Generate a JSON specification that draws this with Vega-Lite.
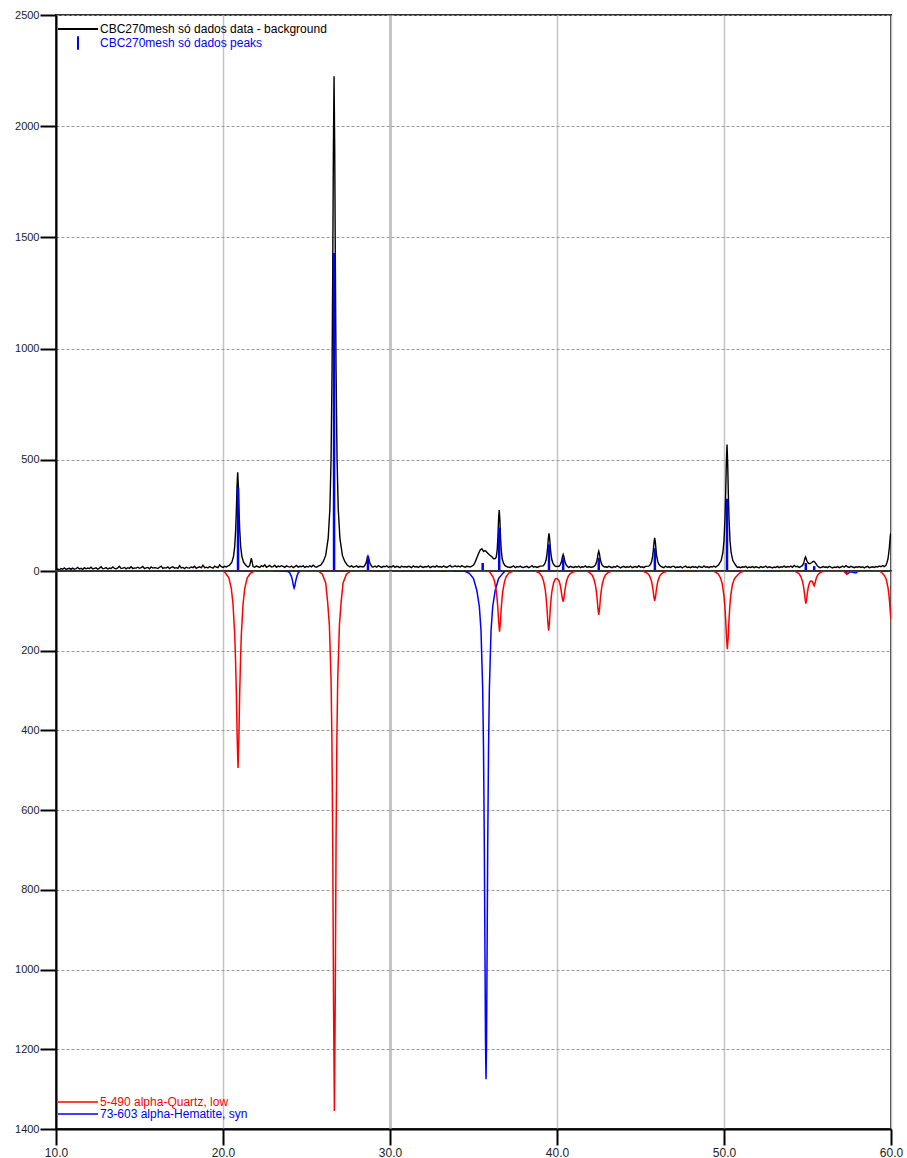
{
  "$schema": "https://vega.github.io/schema/vega-lite/v6.json",
  "background": "white",
  "padding": {"left": 13, "top": 8, "right": 0, "bottom": 0},
  "spacing": 0,
  "bounds": "flush",
  "config": {
    "font": "Liberation Sans",
    "view": {"stroke": "#333333", "strokeWidth": 2},
    "axis": {"labelFont": "Liberation Sans", "labelColor": "#222222", "tickColor": "#000000", "tickWidth": 2, "tickSize": 16, "domainColor": "#000000", "domainWidth": 2},
    "axisY": {"gridDash": [3, 2], "gridColor": "#9a9a9a", "gridWidth": 1, "labelFontSize": 11, "labelPadding": 1},
    "axisX": {"gridColor": "#c4c4c4", "labelFontSize": 12, "labelPadding": 2, "labelFlush": false}
  },
  "resolve": {"scale": {"color": "independent", "y": "independent", "x": "independent"}},
  "datasets": {
    "obs": [
      {"x":10.0,"y":6},{"x":10.1,"y":9},{"x":10.2,"y":5},{"x":10.3,"y":11},{"x":10.4,"y":8},{"x":10.5,"y":14},{"x":10.6,"y":7},{"x":10.7,"y":10},{"x":10.8,"y":12},{"x":10.9,"y":9},
      {"x":11.0,"y":13},{"x":11.1,"y":8},{"x":11.2,"y":11},{"x":11.3,"y":16},{"x":11.4,"y":9},{"x":11.5,"y":12},{"x":11.6,"y":7},{"x":11.7,"y":15},{"x":11.8,"y":10},{"x":11.9,"y":13},
      {"x":12.0,"y":11},{"x":12.1,"y":17},{"x":12.2,"y":9},{"x":12.3,"y":12},{"x":12.4,"y":14},{"x":12.5,"y":8},{"x":12.6,"y":13},{"x":12.7,"y":19},{"x":12.8,"y":10},{"x":12.9,"y":12},
      {"x":13.0,"y":15},{"x":13.1,"y":9},{"x":13.2,"y":13},{"x":13.3,"y":11},{"x":13.4,"y":18},{"x":13.5,"y":12},{"x":13.6,"y":10},{"x":13.7,"y":14},{"x":13.8,"y":21},{"x":13.9,"y":11},
      {"x":14.0,"y":13},{"x":14.1,"y":16},{"x":14.2,"y":10},{"x":14.3,"y":15},{"x":14.4,"y":12},{"x":14.5,"y":19},{"x":14.6,"y":11},{"x":14.7,"y":14},{"x":14.8,"y":13},{"x":14.9,"y":17},
      {"x":15.0,"y":12},{"x":15.1,"y":15},{"x":15.2,"y":20},{"x":15.3,"y":11},{"x":15.4,"y":14},{"x":15.5,"y":16},{"x":15.6,"y":10},{"x":15.7,"y":18},{"x":15.8,"y":13},{"x":15.9,"y":15},
      {"x":16.0,"y":14},{"x":16.1,"y":11},{"x":16.2,"y":17},{"x":16.3,"y":22},{"x":16.4,"y":12},{"x":16.5,"y":15},{"x":16.6,"y":13},{"x":16.7,"y":18},{"x":16.8,"y":11},{"x":16.9,"y":16},
      {"x":17.0,"y":19},{"x":17.1,"y":13},{"x":17.2,"y":15},{"x":17.3,"y":12},{"x":17.4,"y":24},{"x":17.5,"y":14},{"x":17.6,"y":16},{"x":17.7,"y":11},{"x":17.8,"y":17},{"x":17.9,"y":14},
      {"x":18.0,"y":13},{"x":18.1,"y":18},{"x":18.2,"y":15},{"x":18.3,"y":21},{"x":18.4,"y":12},{"x":18.5,"y":16},{"x":18.6,"y":19},{"x":18.7,"y":14},{"x":18.8,"y":26},{"x":18.9,"y":15},
      {"x":19.0,"y":17},{"x":19.1,"y":14},{"x":19.2,"y":20},{"x":19.3,"y":16},{"x":19.4,"y":13},{"x":19.5,"y":22},{"x":19.6,"y":18},{"x":19.7,"y":15},{"x":19.8,"y":27},{"x":19.9,"y":19},
      {"x":20.0,"y":16},{"x":20.1,"y":21},{"x":20.2,"y":18},{"x":20.3,"y":23},
      {"x":20.38,"y":25},{"x":20.53,"y":40},{"x":20.63,"y":66},{"x":20.7,"y":109},{"x":20.76,"y":186},{"x":20.8,"y":272},{"x":20.84,"y":380},{"x":20.88,"y":444},{"x":20.92,"y":380},{"x":20.96,"y":272},{"x":21.0,"y":186},{"x":21.06,"y":109},{"x":21.13,"y":66},{"x":21.23,"y":40},{"x":21.38,"y":25},
      {"x":21.5,"y":18},{"x":21.6,"y":25},{"x":21.7,"y":58},{"x":21.8,"y":20},{"x":21.9,"y":17},
      {"x":22.0,"y":23},{"x":22.1,"y":19},{"x":22.2,"y":16},{"x":22.3,"y":24},{"x":22.4,"y":20},{"x":22.5,"y":28},{"x":22.6,"y":17},{"x":22.7,"y":21},{"x":22.8,"y":25},{"x":22.9,"y":18},
      {"x":23.0,"y":20},{"x":23.1,"y":26},{"x":23.2,"y":17},{"x":23.3,"y":22},{"x":23.4,"y":19},{"x":23.5,"y":24},{"x":23.6,"y":21},{"x":23.7,"y":16},{"x":23.8,"y":23},{"x":23.9,"y":20},
      {"x":24.0,"y":18},{"x":24.1,"y":22},{"x":24.2,"y":15},{"x":24.3,"y":20},{"x":24.4,"y":25},{"x":24.5,"y":17},{"x":24.6,"y":21},{"x":24.7,"y":19},{"x":24.8,"y":24},{"x":24.9,"y":16},
      {"x":25.0,"y":21},{"x":25.1,"y":18},{"x":25.2,"y":23},{"x":25.3,"y":19},{"x":25.4,"y":26},{"x":25.5,"y":20},{"x":25.6,"y":17},{"x":25.7,"y":22},
      {"x":25.85,"y":26},{"x":26.0,"y":42},{"x":26.15,"y":70},{"x":26.3,"y":148},{"x":26.4,"y":280},{"x":26.47,"y":501},{"x":26.53,"y":899},{"x":26.57,"y":1341},{"x":26.61,"y":1894},{"x":26.65,"y":2225},{"x":26.69,"y":1894},{"x":26.73,"y":1341},{"x":26.77,"y":899},{"x":26.83,"y":501},{"x":26.9,"y":280},{"x":27.0,"y":148},{"x":27.15,"y":70},{"x":27.3,"y":42},{"x":27.45,"y":26},
      {"x":27.6,"y":18},{"x":27.7,"y":24},{"x":27.8,"y":17},{"x":27.9,"y":20},
      {"x":28.0,"y":23},{"x":28.1,"y":16},{"x":28.2,"y":21},{"x":28.3,"y":19},
      {"x":28.43,"y":19},{"x":28.56,"y":34},{"x":28.62,"y":52},{"x":28.68,"y":67},{"x":28.74,"y":52},{"x":28.8,"y":34},{"x":28.93,"y":19},
      {"x":29.0,"y":18},{"x":29.1,"y":22},{"x":29.2,"y":17},{"x":29.3,"y":24},{"x":29.4,"y":20},{"x":29.5,"y":16},{"x":29.6,"y":21},{"x":29.7,"y":19},{"x":29.8,"y":23},{"x":29.9,"y":17},
      {"x":30.0,"y":20},{"x":30.1,"y":18},{"x":30.2,"y":24},{"x":30.3,"y":16},{"x":30.4,"y":21},{"x":30.5,"y":19},{"x":30.6,"y":15},{"x":30.7,"y":22},{"x":30.8,"y":18},{"x":30.9,"y":20},
      {"x":31.0,"y":17},{"x":31.1,"y":21},{"x":31.2,"y":19},{"x":31.3,"y":15},{"x":31.4,"y":23},{"x":31.5,"y":18},{"x":31.6,"y":20},{"x":31.7,"y":16},{"x":31.8,"y":22},{"x":31.9,"y":19},
      {"x":32.0,"y":16},{"x":32.1,"y":20},{"x":32.2,"y":18},{"x":32.3,"y":23},{"x":32.4,"y":15},{"x":32.5,"y":19},{"x":32.6,"y":21},{"x":32.7,"y":17},{"x":32.8,"y":24},{"x":32.9,"y":18},
      {"x":33.0,"y":20},{"x":33.1,"y":17},{"x":33.2,"y":22},{"x":33.3,"y":19},{"x":33.4,"y":16},{"x":33.5,"y":21},{"x":33.6,"y":25},{"x":33.7,"y":18},{"x":33.8,"y":20},{"x":33.9,"y":23},
      {"x":34.0,"y":19},{"x":34.1,"y":22},{"x":34.2,"y":18},{"x":34.3,"y":24},{"x":34.4,"y":20},{"x":34.5,"y":17},{"x":34.6,"y":21},
      {"x":34.7,"y":20},{"x":34.8,"y":18},{"x":34.9,"y":22},{"x":35.0,"y":27},{"x":35.1,"y":40},{"x":35.2,"y":60},{"x":35.3,"y":78},{"x":35.4,"y":95},{"x":35.5,"y":100},{"x":35.6,"y":88},{"x":35.7,"y":92},{"x":35.8,"y":84},{"x":35.9,"y":76},{"x":36.0,"y":70},{"x":36.1,"y":64},{"x":36.2,"y":55},{"x":36.3,"y":56},
      {"x":36.36,"y":62},{"x":36.42,"y":95},{"x":36.46,"y":150},{"x":36.5,"y":230},{"x":36.54,"y":274},{"x":36.58,"y":230},{"x":36.62,"y":150},{"x":36.66,"y":95},{"x":36.72,"y":55},{"x":36.79,"y":36},{"x":36.89,"y":24},{"x":37.04,"y":18},
      {"x":37.2,"y":16},{"x":37.3,"y":19},{"x":37.4,"y":23},{"x":37.5,"y":15},{"x":37.6,"y":20},{"x":37.7,"y":18},{"x":37.8,"y":22},{"x":37.9,"y":17},
      {"x":38.0,"y":16},{"x":38.1,"y":19},{"x":38.2,"y":21},{"x":38.3,"y":15},{"x":38.4,"y":18},{"x":38.5,"y":24},{"x":38.6,"y":17},{"x":38.7,"y":20},{"x":38.8,"y":16},{"x":38.9,"y":19},
      {"x":39.0,"y":22},
      {"x":39.17,"y":23},{"x":39.27,"y":33},{"x":39.34,"y":48},{"x":39.4,"y":76},{"x":39.44,"y":107},{"x":39.48,"y":146},{"x":39.52,"y":169},{"x":39.56,"y":146},{"x":39.6,"y":107},{"x":39.64,"y":76},{"x":39.7,"y":48},{"x":39.77,"y":33},{"x":39.87,"y":23},
      {"x":39.95,"y":20},
      {"x":40.12,"y":21},{"x":40.19,"y":27},{"x":40.25,"y":38},{"x":40.29,"y":50},{"x":40.33,"y":65},{"x":40.37,"y":74},{"x":40.41,"y":65},{"x":40.45,"y":50},{"x":40.49,"y":38},{"x":40.55,"y":27},{"x":40.62,"y":21},
      {"x":40.7,"y":15},{"x":40.8,"y":21},{"x":40.9,"y":18},
      {"x":41.0,"y":16},{"x":41.1,"y":20},{"x":41.2,"y":17},{"x":41.3,"y":22},{"x":41.4,"y":15},{"x":41.5,"y":19},{"x":41.6,"y":18},{"x":41.7,"y":23},{"x":41.8,"y":16},{"x":41.9,"y":20},
      {"x":42.0,"y":17},
      {"x":42.15,"y":18},{"x":42.25,"y":23},{"x":42.32,"y":30},{"x":42.38,"y":44},{"x":42.42,"y":59},{"x":42.46,"y":78},{"x":42.5,"y":89},{"x":42.54,"y":78},{"x":42.58,"y":59},{"x":42.62,"y":44},{"x":42.68,"y":30},{"x":42.75,"y":23},{"x":42.85,"y":18},
      {"x":42.95,"y":19},
      {"x":43.0,"y":16},{"x":43.1,"y":21},{"x":43.2,"y":18},{"x":43.3,"y":15},{"x":43.4,"y":20},{"x":43.5,"y":17},{"x":43.6,"y":23},{"x":43.7,"y":19},{"x":43.8,"y":14},{"x":43.9,"y":18},
      {"x":44.0,"y":21},{"x":44.1,"y":16},{"x":44.2,"y":19},{"x":44.3,"y":17},{"x":44.4,"y":22},{"x":44.5,"y":15},{"x":44.6,"y":18},{"x":44.7,"y":20},{"x":44.8,"y":16},{"x":44.9,"y":24},
      {"x":45.0,"y":17},{"x":45.1,"y":19},{"x":45.2,"y":15},{"x":45.3,"y":21},
      {"x":45.5,"y":22},{"x":45.6,"y":30},{"x":45.67,"y":44},{"x":45.73,"y":68},{"x":45.77,"y":95},{"x":45.81,"y":129},{"x":45.85,"y":149},{"x":45.89,"y":129},{"x":45.93,"y":95},{"x":45.97,"y":68},{"x":46.03,"y":44},{"x":46.1,"y":30},{"x":46.2,"y":22},
      {"x":46.3,"y":18},{"x":46.4,"y":15},{"x":46.5,"y":22},{"x":46.6,"y":17},{"x":46.7,"y":19},{"x":46.8,"y":16},{"x":46.9,"y":21},
      {"x":47.0,"y":21},{"x":47.1,"y":15},{"x":47.2,"y":18},{"x":47.3,"y":17},{"x":47.4,"y":20},{"x":47.5,"y":14},{"x":47.6,"y":19},{"x":47.7,"y":22},{"x":47.8,"y":16},{"x":47.9,"y":18},
      {"x":48.0,"y":15},{"x":48.1,"y":20},{"x":48.2,"y":17},{"x":48.3,"y":19},{"x":48.4,"y":14},{"x":48.5,"y":21},{"x":48.6,"y":18},{"x":48.7,"y":16},{"x":48.8,"y":23},{"x":48.9,"y":17},
      {"x":49.0,"y":19},{"x":49.1,"y":15},{"x":49.2,"y":20},{"x":49.3,"y":18},{"x":49.4,"y":22},{"x":49.5,"y":17},
      {"x":49.68,"y":28},{"x":49.83,"y":47},{"x":49.93,"y":81},{"x":50.0,"y":136},{"x":50.06,"y":236},{"x":50.1,"y":347},{"x":50.14,"y":486},{"x":50.18,"y":569},{"x":50.22,"y":486},{"x":50.26,"y":347},{"x":50.3,"y":236},{"x":50.36,"y":136},{"x":50.43,"y":81},{"x":50.53,"y":47},{"x":50.68,"y":28},
      {"x":50.8,"y":16},{"x":50.9,"y":18},
      {"x":51.0,"y":15},{"x":51.1,"y":19},{"x":51.2,"y":17},{"x":51.3,"y":21},{"x":51.4,"y":14},{"x":51.5,"y":18},{"x":51.6,"y":16},{"x":51.7,"y":20},{"x":51.8,"y":15},{"x":51.9,"y":19},
      {"x":52.0,"y":17},{"x":52.1,"y":14},{"x":52.2,"y":20},{"x":52.3,"y":16},{"x":52.4,"y":18},{"x":52.5,"y":22},{"x":52.6,"y":15},{"x":52.7,"y":19},{"x":52.8,"y":17},{"x":52.9,"y":14},
      {"x":53.0,"y":18},{"x":53.1,"y":16},{"x":53.2,"y":21},{"x":53.3,"y":15},{"x":53.4,"y":19},{"x":53.5,"y":17},{"x":53.6,"y":23},{"x":53.7,"y":16},{"x":53.8,"y":20},{"x":53.9,"y":18},
      {"x":54.0,"y":22},{"x":54.1,"y":17},{"x":54.2,"y":25},{"x":54.3,"y":19},{"x":54.4,"y":21},
      {"x":54.5,"y":16},{"x":54.6,"y":20},{"x":54.7,"y":25},{"x":54.76,"y":33},{"x":54.8,"y":43},{"x":54.84,"y":55},{"x":54.88,"y":63},{"x":54.92,"y":56},{"x":54.96,"y":46},{"x":55.02,"y":38},{"x":55.1,"y":33},{"x":55.18,"y":34},{"x":55.26,"y":38},{"x":55.32,"y":42},{"x":55.38,"y":44},{"x":55.44,"y":40},{"x":55.5,"y":33},{"x":55.58,"y":24},{"x":55.66,"y":18},{"x":55.75,"y":15},
      {"x":55.85,"y":17},{"x":55.95,"y":20},
      {"x":56.05,"y":16},{"x":56.1,"y":19},{"x":56.2,"y":15},{"x":56.3,"y":21},{"x":56.4,"y":17},{"x":56.5,"y":14},{"x":56.6,"y":18},{"x":56.7,"y":16},{"x":56.8,"y":20},{"x":56.9,"y":15},
      {"x":57.0,"y":18},{"x":57.1,"y":22},{"x":57.2,"y":17},{"x":57.3,"y":24},{"x":57.4,"y":19},{"x":57.5,"y":16},{"x":57.6,"y":21},{"x":57.7,"y":18},{"x":57.8,"y":15},{"x":57.9,"y":19},
      {"x":58.0,"y":17},{"x":58.1,"y":20},{"x":58.2,"y":16},{"x":58.3,"y":19},{"x":58.4,"y":14},{"x":58.5,"y":18},{"x":58.6,"y":21},{"x":58.7,"y":15},{"x":58.8,"y":17},{"x":58.9,"y":19},
      {"x":59.0,"y":16},{"x":59.1,"y":20},{"x":59.2,"y":18},{"x":59.3,"y":22},{"x":59.4,"y":19},{"x":59.5,"y":24},
      {"x":59.6,"y":20},{"x":59.7,"y":26},{"x":59.76,"y":38},{"x":59.82,"y":55},{"x":59.86,"y":78},{"x":59.9,"y":105},{"x":59.94,"y":140},{"x":59.97,"y":165},{"x":60.0,"y":170}
    ],
    "sticks": [
      {"x":10.9,"h":10},{"x":20.9,"h":375},{"x":26.65,"h":1430},{"x":28.68,"h":67},{"x":35.55,"h":36},{"x":36.54,"h":195},{"x":39.52,"h":120},{"x":40.37,"h":58},{"x":42.5,"h":60},{"x":45.86,"h":103},{"x":50.18,"h":325},{"x":54.9,"h":36},{"x":55.4,"h":22}
    ],
    "quartz": [
      {"x":18.8,"y":0,"seg":"q1"},{"x":20.0,"y":0,"seg":"q1"},{"x":20.15,"y":5,"seg":"q1"},{"x":20.35,"y":17,"seg":"q1"},{"x":20.5,"y":44,"seg":"q1"},{"x":20.6,"y":84,"seg":"q1"},{"x":20.7,"y":158,"seg":"q1"},{"x":20.75,"y":222,"seg":"q1"},{"x":20.8,"y":306,"seg":"q1"},{"x":20.85,"y":420,"seg":"q1"},{"x":20.9,"y":494,"seg":"q1"},{"x":20.95,"y":420,"seg":"q1"},{"x":21.0,"y":306,"seg":"q1"},{"x":21.05,"y":222,"seg":"q1"},{"x":21.1,"y":158,"seg":"q1"},{"x":21.2,"y":84,"seg":"q1"},{"x":21.3,"y":44,"seg":"q1"},{"x":21.45,"y":17,"seg":"q1"},{"x":21.65,"y":5,"seg":"q1"},{"x":21.9,"y":0,"seg":"q1"},{"x":23.0,"y":0,"seg":"q1"},
      {"x":24.6,"y":0,"seg":"q2"},{"x":25.7,"y":0,"seg":"q2"},{"x":25.95,"y":8,"seg":"q2"},{"x":26.15,"y":30,"seg":"q2"},{"x":26.27,"y":80,"seg":"q2"},{"x":26.37,"y":136,"seg":"q2"},{"x":26.47,"y":271,"seg":"q2"},{"x":26.52,"y":418,"seg":"q2"},{"x":26.57,"y":678,"seg":"q2"},{"x":26.62,"y":1084,"seg":"q2"},{"x":26.67,"y":1355,"seg":"q2"},{"x":26.72,"y":1084,"seg":"q2"},{"x":26.77,"y":678,"seg":"q2"},{"x":26.82,"y":418,"seg":"q2"},{"x":26.87,"y":271,"seg":"q2"},{"x":26.97,"y":136,"seg":"q2"},{"x":27.07,"y":80,"seg":"q2"},{"x":27.19,"y":30,"seg":"q2"},{"x":27.39,"y":8,"seg":"q2"},{"x":27.65,"y":0,"seg":"q2"},{"x":28.9,"y":0,"seg":"q2"},
      {"x":34.8,"y":0,"seg":"q3"},{"x":35.9,"y":0,"seg":"q3"},{"x":36.01,"y":5,"seg":"q3"},{"x":36.16,"y":14,"seg":"q3"},{"x":36.26,"y":26,"seg":"q3"},{"x":36.36,"y":49,"seg":"q3"},{"x":36.41,"y":68,"seg":"q3"},{"x":36.46,"y":94,"seg":"q3"},{"x":36.51,"y":129,"seg":"q3"},{"x":36.56,"y":152,"seg":"q3"},{"x":36.61,"y":129,"seg":"q3"},{"x":36.66,"y":94,"seg":"q3"},{"x":36.71,"y":68,"seg":"q3"},{"x":36.76,"y":49,"seg":"q3"},{"x":36.86,"y":26,"seg":"q3"},{"x":36.96,"y":14,"seg":"q3"},{"x":37.11,"y":5,"seg":"q3"},{"x":37.4,"y":0,"seg":"q3"},
      {"x":38.7,"y":0,"seg":"q3"},{"x":38.95,"y":5,"seg":"q3"},{"x":39.1,"y":14,"seg":"q3"},{"x":39.2,"y":26,"seg":"q3"},{"x":39.3,"y":48,"seg":"q3"},{"x":39.35,"y":68,"seg":"q3"},{"x":39.4,"y":93,"seg":"q3"},{"x":39.45,"y":128,"seg":"q3"},{"x":39.5,"y":150,"seg":"q3"},{"x":39.55,"y":128,"seg":"q3"},{"x":39.6,"y":93,"seg":"q3"},{"x":39.65,"y":68,"seg":"q3"},{"x":39.7,"y":50,"seg":"q3"},{"x":39.8,"y":29,"seg":"q3"},{"x":39.9,"y":20,"seg":"q3"},{"x":40.0,"y":19,"seg":"q3"},{"x":40.1,"y":23,"seg":"q3"},{"x":40.15,"y":28,"seg":"q3"},{"x":40.2,"y":37,"seg":"q3"},{"x":40.25,"y":49,"seg":"q3"},{"x":40.3,"y":64,"seg":"q3"},{"x":40.34,"y":72,"seg":"q3"},{"x":40.38,"y":77,"seg":"q3"},{"x":40.43,"y":64,"seg":"q3"},{"x":40.48,"y":47,"seg":"q3"},{"x":40.53,"y":34,"seg":"q3"},{"x":40.58,"y":24,"seg":"q3"},{"x":40.68,"y":13,"seg":"q3"},{"x":40.78,"y":7,"seg":"q3"},{"x":40.93,"y":3,"seg":"q3"},{"x":41.15,"y":0,"seg":"q3"},
      {"x":41.8,"y":0,"seg":"q3"},{"x":41.95,"y":4,"seg":"q3"},{"x":42.1,"y":10,"seg":"q3"},{"x":42.2,"y":19,"seg":"q3"},{"x":42.3,"y":35,"seg":"q3"},{"x":42.35,"y":50,"seg":"q3"},{"x":42.4,"y":68,"seg":"q3"},{"x":42.45,"y":94,"seg":"q3"},{"x":42.5,"y":110,"seg":"q3"},{"x":42.55,"y":94,"seg":"q3"},{"x":42.6,"y":68,"seg":"q3"},{"x":42.65,"y":50,"seg":"q3"},{"x":42.7,"y":35,"seg":"q3"},{"x":42.8,"y":19,"seg":"q3"},{"x":42.9,"y":10,"seg":"q3"},{"x":43.05,"y":4,"seg":"q3"},{"x":43.3,"y":0,"seg":"q3"},
      {"x":45.1,"y":0,"seg":"q3"},{"x":45.3,"y":3,"seg":"q3"},{"x":45.45,"y":7,"seg":"q3"},{"x":45.55,"y":13,"seg":"q3"},{"x":45.65,"y":24,"seg":"q3"},{"x":45.7,"y":34,"seg":"q3"},{"x":45.75,"y":47,"seg":"q3"},{"x":45.8,"y":64,"seg":"q3"},{"x":45.85,"y":75,"seg":"q3"},{"x":45.9,"y":64,"seg":"q3"},{"x":45.95,"y":47,"seg":"q3"},{"x":46.0,"y":34,"seg":"q3"},{"x":46.05,"y":24,"seg":"q3"},{"x":46.15,"y":13,"seg":"q3"},{"x":46.25,"y":7,"seg":"q3"},{"x":46.4,"y":3,"seg":"q3"},{"x":46.65,"y":0,"seg":"q3"},{"x":47.2,"y":0,"seg":"q3"},
      {"x":48.4,"y":0,"seg":"q4"},{"x":49.35,"y":0,"seg":"q4"},{"x":49.45,"y":2,"seg":"q4"},{"x":49.65,"y":7,"seg":"q4"},{"x":49.8,"y":18,"seg":"q4"},{"x":49.9,"y":33,"seg":"q4"},{"x":50.0,"y":63,"seg":"q4"},{"x":50.05,"y":88,"seg":"q4"},{"x":50.1,"y":122,"seg":"q4"},{"x":50.15,"y":167,"seg":"q4"},{"x":50.2,"y":196,"seg":"q4"},{"x":50.25,"y":167,"seg":"q4"},{"x":50.3,"y":122,"seg":"q4"},{"x":50.35,"y":88,"seg":"q4"},{"x":50.4,"y":63,"seg":"q4"},{"x":50.5,"y":35,"seg":"q4"},{"x":50.6,"y":22,"seg":"q4"},{"x":50.68,"y":16,"seg":"q4"},{"x":50.75,"y":13,"seg":"q4"},{"x":50.86,"y":8,"seg":"q4"},{"x":51.0,"y":3,"seg":"q4"},{"x":51.25,"y":0,"seg":"q4"},{"x":52.3,"y":0,"seg":"q4"},
      {"x":53.35,"y":0,"seg":"q5"},{"x":54.2,"y":0,"seg":"q5"},{"x":54.35,"y":3,"seg":"q5"},{"x":54.5,"y":7,"seg":"q5"},{"x":54.6,"y":14,"seg":"q5"},{"x":54.7,"y":26,"seg":"q5"},{"x":54.75,"y":36,"seg":"q5"},{"x":54.8,"y":50,"seg":"q5"},{"x":54.85,"y":68,"seg":"q5"},{"x":54.9,"y":82,"seg":"q5"},{"x":54.95,"y":70,"seg":"q5"},{"x":55.0,"y":53,"seg":"q5"},{"x":55.05,"y":40,"seg":"q5"},{"x":55.1,"y":32,"seg":"q5"},{"x":55.15,"y":27,"seg":"q5"},{"x":55.2,"y":25,"seg":"q5"},{"x":55.25,"y":25,"seg":"q5"},{"x":55.3,"y":27,"seg":"q5"},{"x":55.35,"y":33,"seg":"q5"},{"x":55.4,"y":37,"seg":"q5"},{"x":55.45,"y":31,"seg":"q5"},{"x":55.5,"y":22,"seg":"q5"},{"x":55.55,"y":15,"seg":"q5"},{"x":55.6,"y":11,"seg":"q5"},{"x":55.7,"y":6,"seg":"q5"},{"x":55.8,"y":3,"seg":"q5"},{"x":55.95,"y":1,"seg":"q5"},{"x":56.2,"y":0,"seg":"q5"},
      {"x":57.15,"y":0,"seg":"q5"},{"x":57.25,"y":4,"seg":"q5"},{"x":57.35,"y":8,"seg":"q5"},{"x":57.45,"y":4,"seg":"q5"},{"x":57.55,"y":0,"seg":"q5"},
      {"x":59.3,"y":0,"seg":"q5"},{"x":59.47,"y":5,"seg":"q5"},{"x":59.62,"y":12,"seg":"q5"},{"x":59.72,"y":22,"seg":"q5"},{"x":59.82,"y":42,"seg":"q5"},{"x":59.87,"y":58,"seg":"q5"},{"x":59.92,"y":81,"seg":"q5"},{"x":59.97,"y":110,"seg":"q5"},{"x":60.0,"y":122,"seg":"q5"}
    ],
    "hematite": [
      {"x":23.4,"y":0,"seg":"h1"},{"x":23.9,"y":1,"seg":"h1"},{"x":24.0,"y":5,"seg":"h1"},{"x":24.1,"y":14,"seg":"h1"},{"x":24.17,"y":26,"seg":"h1"},{"x":24.22,"y":38,"seg":"h1"},{"x":24.26,"y":43,"seg":"h1"},{"x":24.3,"y":38,"seg":"h1"},{"x":24.35,"y":26,"seg":"h1"},{"x":24.42,"y":14,"seg":"h1"},{"x":24.5,"y":5,"seg":"h1"},{"x":24.58,"y":1,"seg":"h1"},{"x":24.61,"y":0,"seg":"h1"},
      {"x":33.0,"y":0,"seg":"h2"},{"x":33.4,"y":0,"seg":"h2"},
      {"x":33.8,"y":0,"seg":"h3"},{"x":34.45,"y":0,"seg":"h3"},{"x":34.75,"y":6,"seg":"h3"},{"x":35.0,"y":19,"seg":"h3"},{"x":35.2,"y":49,"seg":"h3"},{"x":35.35,"y":89,"seg":"h3"},{"x":35.45,"y":150,"seg":"h3"},{"x":35.55,"y":296,"seg":"h3"},{"x":35.6,"y":446,"seg":"h3"},{"x":35.65,"y":699,"seg":"h3"},{"x":35.69,"y":982,"seg":"h3"},{"x":35.72,"y":1186,"seg":"h3"},{"x":35.75,"y":1275,"seg":"h3"},{"x":35.78,"y":1186,"seg":"h3"},{"x":35.81,"y":982,"seg":"h3"},{"x":35.85,"y":699,"seg":"h3"},{"x":35.9,"y":446,"seg":"h3"},{"x":35.95,"y":296,"seg":"h3"},{"x":36.05,"y":150,"seg":"h3"},{"x":36.15,"y":89,"seg":"h3"},{"x":36.3,"y":49,"seg":"h3"},{"x":36.5,"y":19,"seg":"h3"},{"x":36.75,"y":6,"seg":"h3"},{"x":36.9,"y":0,"seg":"h3"},
      {"x":57.2,"y":0,"seg":"h4"},{"x":57.4,"y":7,"seg":"h4"},{"x":57.55,"y":2,"seg":"h4"},{"x":57.9,"y":5,"seg":"h4"},{"x":58.05,"y":0,"seg":"h4"}
    ]
  },
  "vconcat": [
    {
      "width": 835,
      "height": 556,
      "layer": [
        {
          "data": {"name": "obs"},
          "mark": {"type": "line", "strokeWidth": 1.4, "clip": true},
          "encoding": {
            "x": {"field": "x", "type": "quantitative", "title": null,
              "scale": {"domain": [10, 60], "nice": false},
              "axis": {"values": [10, 20, 30, 40, 50, 60], "labels": false, "ticks": false, "domain": false, "grid": true,
                "gridWidth": {"condition": {"test": "datum.value === 30", "value": 3}, "value": 1.5}}},
            "y": {"field": "y", "type": "quantitative", "title": null,
              "scale": {"domain": [0, 2500], "nice": false},
              "axis": {"values": [0, 500, 1000, 1500, 2000, 2500], "format": "d", "grid": true}},
            "color": {"datum": "CBC270mesh só dados data - background", "type": "nominal",
              "scale": {"domain": ["CBC270mesh só dados data - background", "CBC270mesh só dados peaks"], "range": ["#000000", "#0000ff"]},
              "legend": {"orient": "none", "legendX": 1, "legendY": 7, "title": null, "padding": 0,
                "labelFont": "Liberation Sans", "labelFontSize": 12, "labelOffset": 1, "labelLimit": 400,
                "clipHeight": 14, "rowPadding": 0, "symbolSize": 1600, "symbolStrokeWidth": 2, "symbolType": "stroke",
                "encode": {
                  "symbols": {"update": {"shape": {"signal": "datum.value === 'CBC270mesh só dados peaks' ? 'M0,-0.34L0,0.34' : 'M-1,0L1,0'"}}},
                  "labels": {"update": {"fill": {"signal": "datum.value === 'CBC270mesh só dados peaks' ? '#0000ff' : '#000000'"}}}
                }}}
          }
        },
        {
          "data": {"name": "sticks"},
          "mark": {"type": "rule", "strokeWidth": 2.5, "clip": true},
          "encoding": {
            "x": {"field": "x", "type": "quantitative", "title": null},
            "y": {"field": "h", "type": "quantitative", "title": null},
            "y2": {"datum": 0},
            "color": {"datum": "CBC270mesh só dados peaks", "type": "nominal"}
          }
        }
      ]
    },
    {
      "width": 835,
      "height": 558,
      "layer": [
        {
          "data": {"name": "hematite"},
          "mark": {"type": "line", "strokeWidth": 1.5, "clip": true},
          "encoding": {
            "x": {"field": "x", "type": "quantitative", "title": null,
              "scale": {"domain": [10, 60], "nice": false},
              "axis": {"values": [10, 20, 30, 40, 50, 60], "format": ".1f", "grid": true,
                "gridWidth": {"condition": {"test": "datum.value === 30", "value": 3}, "value": 1.5}}},
            "y": {"field": "y", "type": "quantitative", "title": null,
              "scale": {"domain": [0, 1400], "reverse": true, "nice": false},
              "axis": {"values": [200, 400, 600, 800, 1000, 1200, 1400], "format": "d", "grid": true}},
            "detail": {"field": "seg"},
            "color": {"datum": "73-603 alpha-Hematite, syn", "type": "nominal",
              "scale": {"domain": ["5-490 alpha-Quartz, low", "73-603 alpha-Hematite, syn"], "range": ["#ff0000", "#0000ff"]},
              "legend": {"orient": "none", "legendX": 1, "legendY": 525, "title": null, "padding": 0,
                "labelFont": "Liberation Sans", "labelFontSize": 12, "labelOffset": 1, "labelLimit": 400,
                "clipHeight": 12, "rowPadding": 0, "symbolSize": 1600, "symbolStrokeWidth": 1.5, "symbolType": "stroke",
                "encode": {
                  "labels": {"update": {"fill": {"signal": "datum.value === '5-490 alpha-Quartz, low' ? '#ff0000' : '#0000ff'"}}}
                }}}
          }
        },
        {
          "data": {"name": "quartz"},
          "mark": {"type": "line", "strokeWidth": 1.5, "clip": true},
          "encoding": {
            "x": {"field": "x", "type": "quantitative", "title": null},
            "y": {"field": "y", "type": "quantitative", "title": null},
            "detail": {"field": "seg"},
            "color": {"datum": "5-490 alpha-Quartz, low", "type": "nominal"}
          }
        }
      ]
    }
  ]
}
